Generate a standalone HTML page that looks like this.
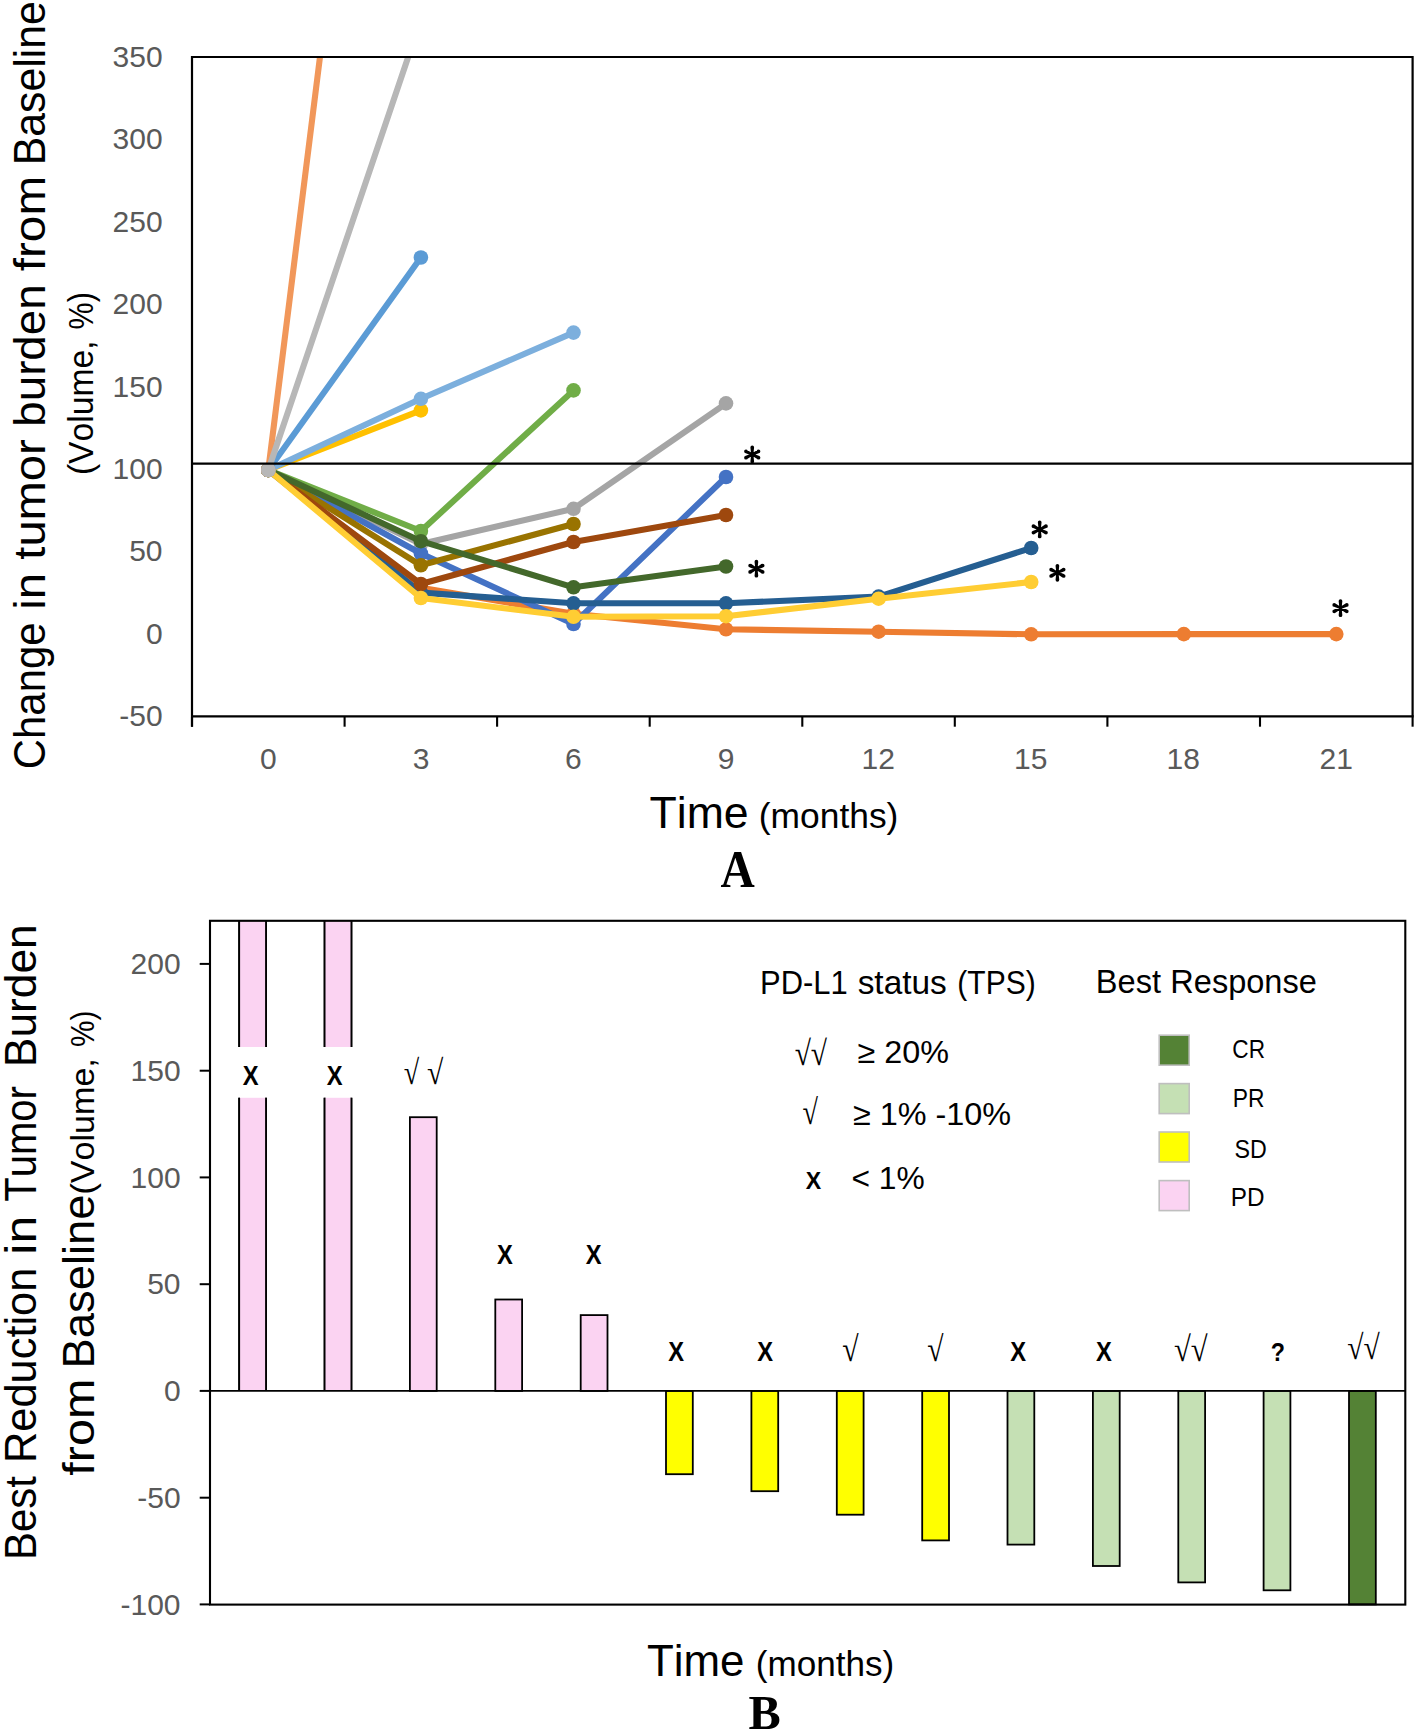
<!DOCTYPE html>
<html><head><meta charset="utf-8"><style>
html,body{margin:0;padding:0;background:#fff;width:1416px;height:1733px;overflow:hidden}
svg{display:block}
text{font-kerning:none}
</style></head><body>
<svg width="1416" height="1733" viewBox="0 0 1416 1733">
<rect width="1416" height="1733" fill="#fff"/>
<defs><clipPath id="ca"><rect x="192" y="56.5" width="1220.6" height="659.9"/></clipPath></defs>
<g clip-path="url(#ca)">
<polyline points="268.3,470.0 420.9,587.8 573.5,613.7 726.0,629.3 878.6,631.7 1031.2,634.3 1183.8,634.1 1336.3,634.1" fill="none" stroke="#ED7D31" stroke-width="6.1" stroke-linejoin="round" stroke-linecap="round"/>
<circle cx="268.3" cy="470.0" r="7.3" fill="#ED7D31"/>
<circle cx="420.9" cy="587.8" r="7.3" fill="#ED7D31"/>
<circle cx="573.5" cy="613.7" r="7.3" fill="#ED7D31"/>
<circle cx="726.0" cy="629.3" r="7.3" fill="#ED7D31"/>
<circle cx="878.6" cy="631.7" r="7.3" fill="#ED7D31"/>
<circle cx="1031.2" cy="634.3" r="7.3" fill="#ED7D31"/>
<circle cx="1183.8" cy="634.1" r="7.3" fill="#ED7D31"/>
<circle cx="1336.3" cy="634.1" r="7.3" fill="#ED7D31"/>
<polyline points="268.3,470.0 420.9,544.0 573.5,508.8 726.0,403.4" fill="none" stroke="#A5A5A5" stroke-width="6.1" stroke-linejoin="round" stroke-linecap="round"/>
<circle cx="268.3" cy="470.0" r="7.3" fill="#A5A5A5"/>
<circle cx="420.9" cy="544.0" r="7.3" fill="#A5A5A5"/>
<circle cx="573.5" cy="508.8" r="7.3" fill="#A5A5A5"/>
<circle cx="726.0" cy="403.4" r="7.3" fill="#A5A5A5"/>
<polyline points="268.3,470.0 420.9,553.5 573.5,624.0 726.0,477.0" fill="none" stroke="#4472C4" stroke-width="6.1" stroke-linejoin="round" stroke-linecap="round"/>
<circle cx="268.3" cy="470.0" r="7.3" fill="#4472C4"/>
<circle cx="420.9" cy="553.5" r="7.3" fill="#4472C4"/>
<circle cx="573.5" cy="624.0" r="7.3" fill="#4472C4"/>
<circle cx="726.0" cy="477.0" r="7.3" fill="#4472C4"/>
<polyline points="268.3,470.0 420.9,592.6 573.5,603.3 726.0,603.3 878.6,596.6 1031.2,548.0" fill="none" stroke="#255E91" stroke-width="6.1" stroke-linejoin="round" stroke-linecap="round"/>
<circle cx="268.3" cy="470.0" r="7.3" fill="#255E91"/>
<circle cx="420.9" cy="592.6" r="7.3" fill="#255E91"/>
<circle cx="573.5" cy="603.3" r="7.3" fill="#255E91"/>
<circle cx="726.0" cy="603.3" r="7.3" fill="#255E91"/>
<circle cx="878.6" cy="596.6" r="7.3" fill="#255E91"/>
<circle cx="1031.2" cy="548.0" r="7.3" fill="#255E91"/>
<polyline points="268.3,470.0 420.9,531.0 573.5,390.4" fill="none" stroke="#70AD47" stroke-width="6.1" stroke-linejoin="round" stroke-linecap="round"/>
<circle cx="268.3" cy="470.0" r="7.3" fill="#70AD47"/>
<circle cx="420.9" cy="531.0" r="7.3" fill="#70AD47"/>
<circle cx="573.5" cy="390.4" r="7.3" fill="#70AD47"/>
<polyline points="268.3,470.0 420.9,565.3 573.5,524.0" fill="none" stroke="#997300" stroke-width="6.1" stroke-linejoin="round" stroke-linecap="round"/>
<circle cx="268.3" cy="470.0" r="7.3" fill="#997300"/>
<circle cx="420.9" cy="565.3" r="7.3" fill="#997300"/>
<circle cx="573.5" cy="524.0" r="7.3" fill="#997300"/>
<polyline points="268.3,470.0 420.9,584.0 573.5,542.0 726.0,515.0" fill="none" stroke="#9E480E" stroke-width="6.1" stroke-linejoin="round" stroke-linecap="round"/>
<circle cx="268.3" cy="470.0" r="7.3" fill="#9E480E"/>
<circle cx="420.9" cy="584.0" r="7.3" fill="#9E480E"/>
<circle cx="573.5" cy="542.0" r="7.3" fill="#9E480E"/>
<circle cx="726.0" cy="515.0" r="7.3" fill="#9E480E"/>
<polyline points="268.3,470.0 420.9,541.2 573.5,587.3 726.0,566.5" fill="none" stroke="#43682B" stroke-width="6.1" stroke-linejoin="round" stroke-linecap="round"/>
<circle cx="268.3" cy="470.0" r="7.3" fill="#43682B"/>
<circle cx="420.9" cy="541.2" r="7.3" fill="#43682B"/>
<circle cx="573.5" cy="587.3" r="7.3" fill="#43682B"/>
<circle cx="726.0" cy="566.5" r="7.3" fill="#43682B"/>
<polyline points="268.3,470.0 420.9,598.0 573.5,616.8 726.0,616.2 878.6,598.7 1031.2,582.0" fill="none" stroke="#FFCD33" stroke-width="6.1" stroke-linejoin="round" stroke-linecap="round"/>
<circle cx="268.3" cy="470.0" r="7.3" fill="#FFCD33"/>
<circle cx="420.9" cy="598.0" r="7.3" fill="#FFCD33"/>
<circle cx="573.5" cy="616.8" r="7.3" fill="#FFCD33"/>
<circle cx="726.0" cy="616.2" r="7.3" fill="#FFCD33"/>
<circle cx="878.6" cy="598.7" r="7.3" fill="#FFCD33"/>
<circle cx="1031.2" cy="582.0" r="7.3" fill="#FFCD33"/>
<polyline points="268.3,470.0 420.9,410.4" fill="none" stroke="#FFC000" stroke-width="6.1" stroke-linejoin="round" stroke-linecap="round"/>
<circle cx="268.3" cy="470.0" r="7.3" fill="#FFC000"/>
<circle cx="420.9" cy="410.4" r="7.3" fill="#FFC000"/>
<polyline points="268.3,470.0 420.9,398.8 573.5,332.6" fill="none" stroke="#7CAFDD" stroke-width="6.1" stroke-linejoin="round" stroke-linecap="round"/>
<circle cx="268.3" cy="470.0" r="7.3" fill="#7CAFDD"/>
<circle cx="420.9" cy="398.8" r="7.3" fill="#7CAFDD"/>
<circle cx="573.5" cy="332.6" r="7.3" fill="#7CAFDD"/>
<polyline points="268.3,470.0 420.9,257.5" fill="none" stroke="#5B9BD5" stroke-width="6.1" stroke-linejoin="round" stroke-linecap="round"/>
<circle cx="268.3" cy="470.0" r="7.3" fill="#5B9BD5"/>
<circle cx="420.9" cy="257.5" r="7.3" fill="#5B9BD5"/>
<polyline points="268.3,470.0 330.3,-25.6" fill="none" stroke="#F1975A" stroke-width="6.1" stroke-linejoin="round" stroke-linecap="round"/>
<circle cx="268.3" cy="470.0" r="7.3" fill="#F1975A"/>
<circle cx="330.3" cy="-25.6" r="7.3" fill="#F1975A"/>
<polyline points="268.3,470.0 420.9,19.5" fill="none" stroke="#B7B7B7" stroke-width="6.1" stroke-linejoin="round" stroke-linecap="round"/>
<circle cx="268.3" cy="470.0" r="7.3" fill="#B7B7B7"/>
<circle cx="420.9" cy="19.5" r="7.3" fill="#B7B7B7"/>
</g>
<path d="M192,57 H1412.6 V716.4" fill="none" stroke="#000" stroke-width="2.2"/>
<path d="M192,55.9 V726.7" fill="none" stroke="#000" stroke-width="2.2"/>
<path d="M192,716.4 H1413.6999999999998" fill="none" stroke="#000" stroke-width="2.2"/>
<path d="M192.0,716.4 V726.7" stroke="#000" stroke-width="2.1"/>
<path d="M344.6,716.4 V726.7" stroke="#000" stroke-width="2.1"/>
<path d="M497.1,716.4 V726.7" stroke="#000" stroke-width="2.1"/>
<path d="M649.7,716.4 V726.7" stroke="#000" stroke-width="2.1"/>
<path d="M802.3,716.4 V726.7" stroke="#000" stroke-width="2.1"/>
<path d="M954.8,716.4 V726.7" stroke="#000" stroke-width="2.1"/>
<path d="M1107.4,716.4 V726.7" stroke="#000" stroke-width="2.1"/>
<path d="M1260.0,716.4 V726.7" stroke="#000" stroke-width="2.1"/>
<path d="M1412.6,716.4 V726.7" stroke="#000" stroke-width="2.1"/>
<path d="M192,463.6 H1412.6" stroke="#000" stroke-width="2.3"/>
<text x="112.52" y="66.92" font-family="Liberation Sans, sans-serif" font-weight="normal" font-size="30.00" fill="#595959" textLength="50.05" lengthAdjust="spacingAndGlyphs">350</text>
<text x="112.52" y="149.35" font-family="Liberation Sans, sans-serif" font-weight="normal" font-size="30.00" fill="#595959" textLength="50.05" lengthAdjust="spacingAndGlyphs">300</text>
<text x="112.52" y="231.78" font-family="Liberation Sans, sans-serif" font-weight="normal" font-size="30.00" fill="#595959" textLength="50.05" lengthAdjust="spacingAndGlyphs">250</text>
<text x="112.52" y="314.20" font-family="Liberation Sans, sans-serif" font-weight="normal" font-size="30.00" fill="#595959" textLength="50.05" lengthAdjust="spacingAndGlyphs">200</text>
<text x="112.52" y="396.63" font-family="Liberation Sans, sans-serif" font-weight="normal" font-size="30.00" fill="#595959" textLength="50.05" lengthAdjust="spacingAndGlyphs">150</text>
<text x="112.52" y="479.05" font-family="Liberation Sans, sans-serif" font-weight="normal" font-size="30.00" fill="#595959" textLength="50.05" lengthAdjust="spacingAndGlyphs">100</text>
<text x="129.20" y="561.48" font-family="Liberation Sans, sans-serif" font-weight="normal" font-size="30.00" fill="#595959" textLength="33.37" lengthAdjust="spacingAndGlyphs">50</text>
<text x="145.89" y="643.90" font-family="Liberation Sans, sans-serif" font-weight="normal" font-size="30.00" fill="#595959" textLength="16.68" lengthAdjust="spacingAndGlyphs">0</text>
<text x="119.21" y="726.32" font-family="Liberation Sans, sans-serif" font-weight="normal" font-size="30.00" fill="#595959" textLength="43.36" lengthAdjust="spacingAndGlyphs">-50</text>
<text x="259.99" y="769.00" font-family="Liberation Sans, sans-serif" font-weight="normal" font-size="30.00" fill="#595959" textLength="16.68" lengthAdjust="spacingAndGlyphs">0</text>
<text x="412.65" y="769.00" font-family="Liberation Sans, sans-serif" font-weight="normal" font-size="30.00" fill="#595959" textLength="16.68" lengthAdjust="spacingAndGlyphs">3</text>
<text x="565.03" y="769.00" font-family="Liberation Sans, sans-serif" font-weight="normal" font-size="30.00" fill="#595959" textLength="16.68" lengthAdjust="spacingAndGlyphs">6</text>
<text x="717.71" y="769.00" font-family="Liberation Sans, sans-serif" font-weight="normal" font-size="30.00" fill="#595959" textLength="16.68" lengthAdjust="spacingAndGlyphs">9</text>
<text x="861.54" y="769.00" font-family="Liberation Sans, sans-serif" font-weight="normal" font-size="30.00" fill="#595959" textLength="33.37" lengthAdjust="spacingAndGlyphs">12</text>
<text x="1013.98" y="769.00" font-family="Liberation Sans, sans-serif" font-weight="normal" font-size="30.00" fill="#595959" textLength="33.37" lengthAdjust="spacingAndGlyphs">15</text>
<text x="1166.57" y="769.00" font-family="Liberation Sans, sans-serif" font-weight="normal" font-size="30.00" fill="#595959" textLength="33.37" lengthAdjust="spacingAndGlyphs">18</text>
<text x="1319.61" y="769.00" font-family="Liberation Sans, sans-serif" font-weight="normal" font-size="30.00" fill="#595959" textLength="33.37" lengthAdjust="spacingAndGlyphs">21</text>
<path d="M753.35,454.50 L754.10,447.45 L750.40,447.45 L751.15,454.50 Z M754.10,447.45 a1.85,1.85 0 1,0 -3.70,0 a1.85,1.85 0 1,0 3.70,0 Z M751.15,454.50 L750.40,461.55 L754.10,461.55 L753.35,454.50 Z M754.10,461.55 a1.85,1.85 0 1,0 -3.70,0 a1.85,1.85 0 1,0 3.70,0 Z M752.75,455.48 L759.37,452.95 L757.69,449.65 L751.75,453.52 Z M760.38,451.30 a1.85,1.85 0 1,0 -3.70,0 a1.85,1.85 0 1,0 3.70,0 Z M752.75,453.52 L746.81,449.65 L745.13,452.95 L751.75,455.48 Z M747.82,451.30 a1.85,1.85 0 1,0 -3.70,0 a1.85,1.85 0 1,0 3.70,0 Z M751.75,455.48 L757.69,459.35 L759.37,456.05 L752.75,453.52 Z M760.38,457.70 a1.85,1.85 0 1,0 -3.70,0 a1.85,1.85 0 1,0 3.70,0 Z M751.75,453.52 L745.13,456.05 L746.81,459.35 L752.75,455.48 Z M747.82,457.70 a1.85,1.85 0 1,0 -3.70,0 a1.85,1.85 0 1,0 3.70,0 Z" fill="#000"/>
<circle cx="752.25" cy="454.5" r="1.6" fill="#000"/>
<path d="M757.50,568.70 L758.25,561.65 L754.55,561.65 L755.30,568.70 Z M758.25,561.65 a1.85,1.85 0 1,0 -3.70,0 a1.85,1.85 0 1,0 3.70,0 Z M755.30,568.70 L754.55,575.75 L758.25,575.75 L757.50,568.70 Z M758.25,575.75 a1.85,1.85 0 1,0 -3.70,0 a1.85,1.85 0 1,0 3.70,0 Z M756.90,569.68 L763.52,567.15 L761.84,563.85 L755.90,567.72 Z M764.53,565.50 a1.85,1.85 0 1,0 -3.70,0 a1.85,1.85 0 1,0 3.70,0 Z M756.90,567.72 L750.96,563.85 L749.28,567.15 L755.90,569.68 Z M751.97,565.50 a1.85,1.85 0 1,0 -3.70,0 a1.85,1.85 0 1,0 3.70,0 Z M755.90,569.68 L761.84,573.55 L763.52,570.25 L756.90,567.72 Z M764.53,571.90 a1.85,1.85 0 1,0 -3.70,0 a1.85,1.85 0 1,0 3.70,0 Z M755.90,567.72 L749.28,570.25 L750.96,573.55 L756.90,569.68 Z M751.97,571.90 a1.85,1.85 0 1,0 -3.70,0 a1.85,1.85 0 1,0 3.70,0 Z" fill="#000"/>
<circle cx="756.4" cy="568.7" r="1.6" fill="#000"/>
<path d="M1040.80,529.40 L1041.55,522.35 L1037.85,522.35 L1038.60,529.40 Z M1041.55,522.35 a1.85,1.85 0 1,0 -3.70,0 a1.85,1.85 0 1,0 3.70,0 Z M1038.60,529.40 L1037.85,536.45 L1041.55,536.45 L1040.80,529.40 Z M1041.55,536.45 a1.85,1.85 0 1,0 -3.70,0 a1.85,1.85 0 1,0 3.70,0 Z M1040.20,530.38 L1046.82,527.85 L1045.14,524.55 L1039.20,528.42 Z M1047.83,526.20 a1.85,1.85 0 1,0 -3.70,0 a1.85,1.85 0 1,0 3.70,0 Z M1040.20,528.42 L1034.26,524.55 L1032.58,527.85 L1039.20,530.38 Z M1035.27,526.20 a1.85,1.85 0 1,0 -3.70,0 a1.85,1.85 0 1,0 3.70,0 Z M1039.20,530.38 L1045.14,534.25 L1046.82,530.95 L1040.20,528.42 Z M1047.83,532.60 a1.85,1.85 0 1,0 -3.70,0 a1.85,1.85 0 1,0 3.70,0 Z M1039.20,528.42 L1032.58,530.95 L1034.26,534.25 L1040.20,530.38 Z M1035.27,532.60 a1.85,1.85 0 1,0 -3.70,0 a1.85,1.85 0 1,0 3.70,0 Z" fill="#000"/>
<circle cx="1039.7" cy="529.4" r="1.6" fill="#000"/>
<path d="M1058.50,572.80 L1059.25,565.75 L1055.55,565.75 L1056.30,572.80 Z M1059.25,565.75 a1.85,1.85 0 1,0 -3.70,0 a1.85,1.85 0 1,0 3.70,0 Z M1056.30,572.80 L1055.55,579.85 L1059.25,579.85 L1058.50,572.80 Z M1059.25,579.85 a1.85,1.85 0 1,0 -3.70,0 a1.85,1.85 0 1,0 3.70,0 Z M1057.90,573.78 L1064.52,571.25 L1062.84,567.95 L1056.90,571.82 Z M1065.53,569.60 a1.85,1.85 0 1,0 -3.70,0 a1.85,1.85 0 1,0 3.70,0 Z M1057.90,571.82 L1051.96,567.95 L1050.28,571.25 L1056.90,573.78 Z M1052.97,569.60 a1.85,1.85 0 1,0 -3.70,0 a1.85,1.85 0 1,0 3.70,0 Z M1056.90,573.78 L1062.84,577.65 L1064.52,574.35 L1057.90,571.82 Z M1065.53,576.00 a1.85,1.85 0 1,0 -3.70,0 a1.85,1.85 0 1,0 3.70,0 Z M1056.90,571.82 L1050.28,574.35 L1051.96,577.65 L1057.90,573.78 Z M1052.97,576.00 a1.85,1.85 0 1,0 -3.70,0 a1.85,1.85 0 1,0 3.70,0 Z" fill="#000"/>
<circle cx="1057.4" cy="572.8" r="1.6" fill="#000"/>
<path d="M1341.60,608.10 L1342.35,601.05 L1338.65,601.05 L1339.40,608.10 Z M1342.35,601.05 a1.85,1.85 0 1,0 -3.70,0 a1.85,1.85 0 1,0 3.70,0 Z M1339.40,608.10 L1338.65,615.15 L1342.35,615.15 L1341.60,608.10 Z M1342.35,615.15 a1.85,1.85 0 1,0 -3.70,0 a1.85,1.85 0 1,0 3.70,0 Z M1341.00,609.08 L1347.62,606.55 L1345.94,603.25 L1340.00,607.12 Z M1348.63,604.90 a1.85,1.85 0 1,0 -3.70,0 a1.85,1.85 0 1,0 3.70,0 Z M1341.00,607.12 L1335.06,603.25 L1333.38,606.55 L1340.00,609.08 Z M1336.07,604.90 a1.85,1.85 0 1,0 -3.70,0 a1.85,1.85 0 1,0 3.70,0 Z M1340.00,609.08 L1345.94,612.95 L1347.62,609.65 L1341.00,607.12 Z M1348.63,611.30 a1.85,1.85 0 1,0 -3.70,0 a1.85,1.85 0 1,0 3.70,0 Z M1340.00,607.12 L1333.38,609.65 L1335.06,612.95 L1341.00,609.08 Z M1336.07,611.30 a1.85,1.85 0 1,0 -3.70,0 a1.85,1.85 0 1,0 3.70,0 Z" fill="#000"/>
<circle cx="1340.5" cy="608.1" r="1.6" fill="#000"/>
<text transform="translate(44.60,769.13) rotate(-90)" font-family="Liberation Sans, sans-serif" font-weight="normal" font-size="44.50" fill="#000" textLength="146.58" lengthAdjust="spacingAndGlyphs">Change</text>
<text transform="translate(44.60,609.77) rotate(-90)" font-family="Liberation Sans, sans-serif" font-weight="normal" font-size="44.50" fill="#000" textLength="36.84" lengthAdjust="spacingAndGlyphs">in</text>
<text transform="translate(44.60,559.71) rotate(-90)" font-family="Liberation Sans, sans-serif" font-weight="normal" font-size="44.50" fill="#000" textLength="120.50" lengthAdjust="spacingAndGlyphs">tumor</text>
<text transform="translate(44.60,426.64) rotate(-90)" font-family="Liberation Sans, sans-serif" font-weight="normal" font-size="44.50" fill="#000" textLength="142.21" lengthAdjust="spacingAndGlyphs">burden</text>
<text transform="translate(44.60,271.28) rotate(-90)" font-family="Liberation Sans, sans-serif" font-weight="normal" font-size="44.50" fill="#000" textLength="95.42" lengthAdjust="spacingAndGlyphs">from</text>
<text transform="translate(44.60,165.21) rotate(-90)" font-family="Liberation Sans, sans-serif" font-weight="normal" font-size="44.50" fill="#000" textLength="164.11" lengthAdjust="spacingAndGlyphs">Baseline</text>
<text transform="translate(93.20,475.09) rotate(-90)" font-family="Liberation Sans, sans-serif" font-weight="normal" font-size="34.20" fill="#000" textLength="134.61" lengthAdjust="spacingAndGlyphs">(Volume,</text>
<text transform="translate(93.20,329.39) rotate(-90)" font-family="Liberation Sans, sans-serif" font-weight="normal" font-size="34.20" fill="#000" textLength="37.28" lengthAdjust="spacingAndGlyphs">%)</text>
<text x="649.50" y="828.10" font-family="Liberation Sans, sans-serif" font-weight="normal" font-size="44.60" fill="#000" textLength="99.19" lengthAdjust="spacingAndGlyphs">Time</text>
<text x="758.81" y="828.10" font-family="Liberation Sans, sans-serif" font-weight="normal" font-size="35.00" fill="#000" textLength="139.59" lengthAdjust="spacingAndGlyphs">(months)</text>
<text x="720.54" y="886.50" font-family="Liberation Serif, serif" font-weight="bold" font-size="52.70" fill="#000" textLength="34.31" lengthAdjust="spacingAndGlyphs">A</text>
<path d="M239.2,920.8 V1047 M266.0,920.8 V1047 M239.2,1097.8 V1390.9 M266.0,1097.8 V1390.9" stroke="#000" stroke-width="1.8"/>
<rect x="239.2" y="920.8" width="26.8" height="126.2" fill="#FBD3F2"/>
<rect x="239.2" y="1097.8" width="26.8" height="293.1" fill="#FBD3F2"/>
<path d="M239.2,920.8 V1047 M266.0,920.8 V1047 M239.2,1097.8 V1390.9 M266.0,1097.8 V1390.9" stroke="#000" stroke-width="1.8"/>
<path d="M324.6,920.8 V1047 M351.4,920.8 V1047 M324.6,1097.8 V1390.9 M351.4,1097.8 V1390.9" stroke="#000" stroke-width="1.8"/>
<rect x="324.6" y="920.8" width="26.8" height="126.2" fill="#FBD3F2"/>
<rect x="324.6" y="1097.8" width="26.8" height="293.1" fill="#FBD3F2"/>
<path d="M324.6,920.8 V1047 M351.4,920.8 V1047 M324.6,1097.8 V1390.9 M351.4,1097.8 V1390.9" stroke="#000" stroke-width="1.8"/>
<rect x="409.9" y="1117.2" width="26.8" height="273.7" fill="#FBD3F2" stroke="#000" stroke-width="1.8"/>
<rect x="495.3" y="1299.5" width="26.8" height="91.4" fill="#FBD3F2" stroke="#000" stroke-width="1.8"/>
<rect x="580.7" y="1315.1" width="26.8" height="75.8" fill="#FBD3F2" stroke="#000" stroke-width="1.8"/>
<rect x="666.0" y="1390.9" width="26.8" height="83.3" fill="#FFFF00" stroke="#000" stroke-width="1.8"/>
<rect x="751.4" y="1390.9" width="26.8" height="100.3" fill="#FFFF00" stroke="#000" stroke-width="1.8"/>
<rect x="836.8" y="1390.9" width="26.8" height="123.8" fill="#FFFF00" stroke="#000" stroke-width="1.8"/>
<rect x="922.2" y="1390.9" width="26.8" height="149.5" fill="#FFFF00" stroke="#000" stroke-width="1.8"/>
<rect x="1007.5" y="1390.9" width="26.8" height="153.7" fill="#C5E0B4" stroke="#000" stroke-width="1.8"/>
<rect x="1092.9" y="1390.9" width="26.8" height="175.1" fill="#C5E0B4" stroke="#000" stroke-width="1.8"/>
<rect x="1178.3" y="1390.9" width="26.8" height="191.5" fill="#C5E0B4" stroke="#000" stroke-width="1.8"/>
<rect x="1263.6" y="1390.9" width="26.8" height="199.4" fill="#C5E0B4" stroke="#000" stroke-width="1.8"/>
<rect x="1349.0" y="1390.9" width="26.8" height="213.5" fill="#548235" stroke="#000" stroke-width="1.8"/>
<rect x="210" y="920.8" width="1195.3" height="683.8" fill="none" stroke="#000" stroke-width="2.1"/>
<path d="M210,1390.9 H1405.3" stroke="#000" stroke-width="1.9"/>
<path d="M199.7,963.9 H210" stroke="#000" stroke-width="2"/>
<text x="130.52" y="974.10" font-family="Liberation Sans, sans-serif" font-weight="normal" font-size="30.00" fill="#595959" textLength="50.05" lengthAdjust="spacingAndGlyphs">200</text>
<path d="M199.7,1070.7 H210" stroke="#000" stroke-width="2"/>
<text x="130.52" y="1080.85" font-family="Liberation Sans, sans-serif" font-weight="normal" font-size="30.00" fill="#595959" textLength="50.05" lengthAdjust="spacingAndGlyphs">150</text>
<path d="M199.7,1177.4 H210" stroke="#000" stroke-width="2"/>
<text x="130.52" y="1187.60" font-family="Liberation Sans, sans-serif" font-weight="normal" font-size="30.00" fill="#595959" textLength="50.05" lengthAdjust="spacingAndGlyphs">100</text>
<path d="M199.7,1284.2 H210" stroke="#000" stroke-width="2"/>
<text x="147.20" y="1294.35" font-family="Liberation Sans, sans-serif" font-weight="normal" font-size="30.00" fill="#595959" textLength="33.37" lengthAdjust="spacingAndGlyphs">50</text>
<path d="M199.7,1390.9 H210" stroke="#000" stroke-width="2"/>
<text x="163.89" y="1401.10" font-family="Liberation Sans, sans-serif" font-weight="normal" font-size="30.00" fill="#595959" textLength="16.68" lengthAdjust="spacingAndGlyphs">0</text>
<path d="M199.7,1497.7 H210" stroke="#000" stroke-width="2"/>
<text x="137.21" y="1507.85" font-family="Liberation Sans, sans-serif" font-weight="normal" font-size="30.00" fill="#595959" textLength="43.36" lengthAdjust="spacingAndGlyphs">-50</text>
<path d="M199.7,1604.4 H210" stroke="#000" stroke-width="2"/>
<text x="120.53" y="1614.60" font-family="Liberation Sans, sans-serif" font-weight="normal" font-size="30.00" fill="#595959" textLength="60.04" lengthAdjust="spacingAndGlyphs">-100</text>
<text x="242.79" y="1084.60" font-family="Liberation Sans, sans-serif" font-weight="bold" font-size="27.76" fill="#000" textLength="15.82" lengthAdjust="spacingAndGlyphs">X</text>
<text x="326.69" y="1084.60" font-family="Liberation Sans, sans-serif" font-weight="bold" font-size="27.76" fill="#000" textLength="15.82" lengthAdjust="spacingAndGlyphs">X</text>
<text x="403.70" y="1083.66" font-family="Liberation Serif, serif" font-weight="normal" font-size="34.34" fill="#000" textLength="15.43" lengthAdjust="spacingAndGlyphs">√</text>
<text x="426.96" y="1083.66" font-family="Liberation Serif, serif" font-weight="normal" font-size="34.34" fill="#000" textLength="16.27" lengthAdjust="spacingAndGlyphs">√</text>
<text x="496.99" y="1264.30" font-family="Liberation Sans, sans-serif" font-weight="bold" font-size="27.62" fill="#000" textLength="15.82" lengthAdjust="spacingAndGlyphs">X</text>
<text x="585.69" y="1264.30" font-family="Liberation Sans, sans-serif" font-weight="bold" font-size="27.62" fill="#000" textLength="15.82" lengthAdjust="spacingAndGlyphs">X</text>
<text x="668.29" y="1361.20" font-family="Liberation Sans, sans-serif" font-weight="bold" font-size="27.47" fill="#000" textLength="15.82" lengthAdjust="spacingAndGlyphs">X</text>
<text x="757.29" y="1361.20" font-family="Liberation Sans, sans-serif" font-weight="bold" font-size="27.47" fill="#000" textLength="15.82" lengthAdjust="spacingAndGlyphs">X</text>
<text x="842.36" y="1361.35" font-family="Liberation Serif, serif" font-weight="normal" font-size="35.34" fill="#000" textLength="16.37" lengthAdjust="spacingAndGlyphs">√</text>
<text x="927.26" y="1361.35" font-family="Liberation Serif, serif" font-weight="normal" font-size="35.34" fill="#000" textLength="16.27" lengthAdjust="spacingAndGlyphs">√</text>
<text x="1010.19" y="1361.20" font-family="Liberation Sans, sans-serif" font-weight="bold" font-size="27.47" fill="#000" textLength="15.82" lengthAdjust="spacingAndGlyphs">X</text>
<text x="1096.09" y="1361.20" font-family="Liberation Sans, sans-serif" font-weight="bold" font-size="27.47" fill="#000" textLength="15.82" lengthAdjust="spacingAndGlyphs">X</text>
<text x="1174.04" y="1360.86" font-family="Liberation Serif, serif" font-weight="normal" font-size="34.96" fill="#000" textLength="33.69" lengthAdjust="spacingAndGlyphs">√√</text>
<text x="1270.63" y="1361.10" font-family="Liberation Sans, sans-serif" font-weight="bold" font-size="26.50" fill="#000" textLength="14.21" lengthAdjust="spacingAndGlyphs">?</text>
<text x="1347.36" y="1358.56" font-family="Liberation Serif, serif" font-weight="normal" font-size="34.59" fill="#000" textLength="32.47" lengthAdjust="spacingAndGlyphs">√√</text>
<text x="760.06" y="993.60" font-family="Liberation Sans, sans-serif" font-weight="normal" font-size="33.50" fill="#000" textLength="87.65" lengthAdjust="spacingAndGlyphs">PD-L1</text>
<text x="857.67" y="993.60" font-family="Liberation Sans, sans-serif" font-weight="normal" font-size="33.50" fill="#000" textLength="89.14" lengthAdjust="spacingAndGlyphs">status</text>
<text x="957.34" y="993.60" font-family="Liberation Sans, sans-serif" font-weight="normal" font-size="33.50" fill="#000" textLength="78.32" lengthAdjust="spacingAndGlyphs">(TPS)</text>
<text x="1095.83" y="992.80" font-family="Liberation Sans, sans-serif" font-weight="normal" font-size="34.00" fill="#000" textLength="65.21" lengthAdjust="spacingAndGlyphs">Best</text>
<text x="1170.33" y="992.80" font-family="Liberation Sans, sans-serif" font-weight="normal" font-size="34.00" fill="#000" textLength="146.51" lengthAdjust="spacingAndGlyphs">Response</text>
<text x="794.67" y="1064.56" font-family="Liberation Serif, serif" font-weight="normal" font-size="34.84" fill="#000" textLength="32.36" lengthAdjust="spacingAndGlyphs">√√</text>
<text x="857.57" y="1063.20" font-family="Liberation Sans, sans-serif" font-weight="normal" font-size="32.10" fill="#000" textLength="91.48" lengthAdjust="spacingAndGlyphs">≥ 20%</text>
<text x="802.60" y="1123.75" font-family="Liberation Serif, serif" font-weight="normal" font-size="35.34" fill="#000" textLength="15.43" lengthAdjust="spacingAndGlyphs">√</text>
<text x="852.97" y="1125.10" font-family="Liberation Sans, sans-serif" font-weight="normal" font-size="32.10" fill="#000" textLength="158.18" lengthAdjust="spacingAndGlyphs">≥ 1% -10%</text>
<text x="805.80" y="1189.10" font-family="Liberation Sans, sans-serif" font-weight="bold" font-size="23.98" fill="#000" textLength="15.41" lengthAdjust="spacingAndGlyphs">X</text>
<text x="851.44" y="1189.10" font-family="Liberation Sans, sans-serif" font-weight="normal" font-size="32.10" fill="#000" textLength="73.20" lengthAdjust="spacingAndGlyphs">&lt; 1%</text>
<rect x="1159.2" y="1035.2" width="30" height="30" fill="#548235" stroke="#BFBFBF" stroke-width="1.6"/>
<text x="1232.35" y="1058.40" font-family="Liberation Sans, sans-serif" font-weight="normal" font-size="25.90" fill="#000" textLength="32.70" lengthAdjust="spacingAndGlyphs">CR</text>
<rect x="1159.2" y="1083.6" width="30" height="30" fill="#C5E0B4" stroke="#BFBFBF" stroke-width="1.6"/>
<text x="1232.73" y="1107.10" font-family="Liberation Sans, sans-serif" font-weight="normal" font-size="25.90" fill="#000" textLength="31.73" lengthAdjust="spacingAndGlyphs">PR</text>
<rect x="1159.2" y="1132.0" width="30" height="30" fill="#FFFF00" stroke="#BFBFBF" stroke-width="1.6"/>
<text x="1234.45" y="1157.80" font-family="Liberation Sans, sans-serif" font-weight="normal" font-size="25.90" fill="#000" textLength="32.27" lengthAdjust="spacingAndGlyphs">SD</text>
<rect x="1159.2" y="1180.6" width="30" height="30" fill="#FBD3F2" stroke="#BFBFBF" stroke-width="1.6"/>
<text x="1230.81" y="1205.70" font-family="Liberation Sans, sans-serif" font-weight="normal" font-size="25.90" fill="#000" textLength="33.76" lengthAdjust="spacingAndGlyphs">PD</text>
<text transform="translate(36.40,1560.04) rotate(-90)" font-family="Liberation Sans, sans-serif" font-weight="normal" font-size="44.50" fill="#000" textLength="83.84" lengthAdjust="spacingAndGlyphs">Best</text>
<text transform="translate(36.40,1462.96) rotate(-90)" font-family="Liberation Sans, sans-serif" font-weight="normal" font-size="44.50" fill="#000" textLength="195.27" lengthAdjust="spacingAndGlyphs">Reduction</text>
<text transform="translate(36.40,1254.75) rotate(-90)" font-family="Liberation Sans, sans-serif" font-weight="normal" font-size="44.50" fill="#000" textLength="39.01" lengthAdjust="spacingAndGlyphs">in</text>
<text transform="translate(36.40,1201.80) rotate(-90)" font-family="Liberation Sans, sans-serif" font-weight="normal" font-size="44.50" fill="#000" textLength="115.66" lengthAdjust="spacingAndGlyphs">Tumor</text>
<text transform="translate(36.40,1067.13) rotate(-90)" font-family="Liberation Sans, sans-serif" font-weight="normal" font-size="44.50" fill="#000" textLength="142.81" lengthAdjust="spacingAndGlyphs">Burden</text>
<text transform="translate(94.30,1475.69) rotate(-90)" font-family="Liberation Sans, sans-serif" font-weight="normal" font-size="44.50" fill="#000" textLength="97.09" lengthAdjust="spacingAndGlyphs">from</text>
<text transform="translate(94.30,1368.52) rotate(-90)" font-family="Liberation Sans, sans-serif" font-weight="normal" font-size="44.50" fill="#000" textLength="174.04" lengthAdjust="spacingAndGlyphs">Baseline</text>
<text transform="translate(93.90,1194.62) rotate(-90)" font-family="Liberation Sans, sans-serif" font-weight="normal" font-size="33.80" fill="#000" textLength="136.48" lengthAdjust="spacingAndGlyphs">(Volume,</text>
<text transform="translate(93.90,1047.06) rotate(-90)" font-family="Liberation Sans, sans-serif" font-weight="normal" font-size="33.80" fill="#000" textLength="36.41" lengthAdjust="spacingAndGlyphs">%)</text>
<text x="647.01" y="1675.70" font-family="Liberation Sans, sans-serif" font-weight="normal" font-size="44.60" fill="#000" textLength="97.54" lengthAdjust="spacingAndGlyphs">Time</text>
<text x="755.82" y="1675.70" font-family="Liberation Sans, sans-serif" font-weight="normal" font-size="35.00" fill="#000" textLength="138.45" lengthAdjust="spacingAndGlyphs">(months)</text>
<text x="748.60" y="1729.00" font-family="Liberation Serif, serif" font-weight="bold" font-size="48.00" fill="#000" textLength="32.25" lengthAdjust="spacingAndGlyphs">B</text>
</svg>
</body></html>
